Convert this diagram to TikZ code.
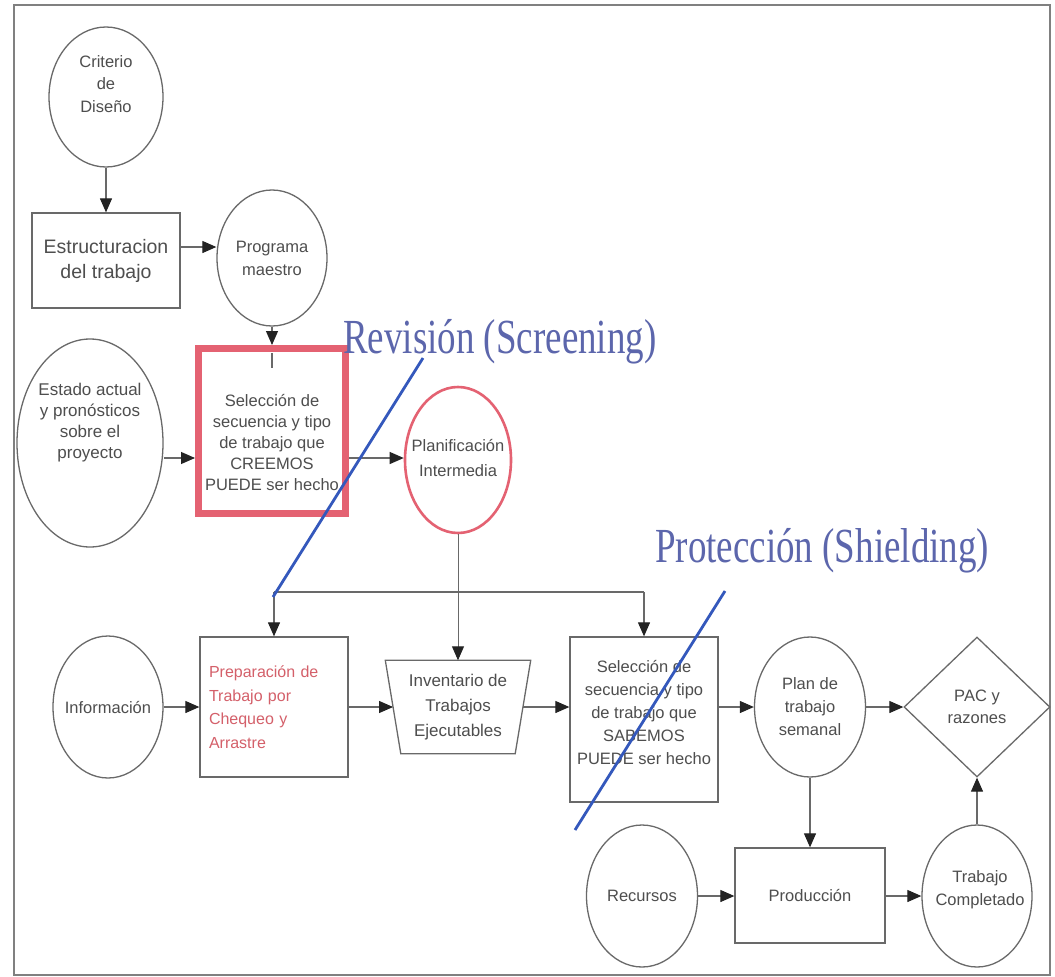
\documentclass[tikz,border=0pt]{standalone}
\usepackage{fontspec}
\setmainfont{Liberation Sans}
\newfontfamily\headfont{Liberation Serif}
\usetikzlibrary{arrows.meta,shapes.geometric,calc}

\definecolor{ink}{RGB}{78,78,78}
\definecolor{edge}{RGB}{105,105,105}
\definecolor{tip}{RGB}{35,35,35}
\definecolor{hot}{RGB}{228,98,114}
\definecolor{hottext}{RGB}{212,96,106}
\definecolor{cut}{RGB}{52,88,188}
\definecolor{headblue}{RGB}{92,102,172}
\definecolor{framegray}{RGB}{128,128,128}

\begin{document}
\begin{tikzpicture}[x=1pt,y=-1pt,
  every node/.style={text=ink, font=\fontsize{16.5}{23}\selectfont, align=center, inner sep=0pt},
  bubble/.style={draw=edge, line width=1.3pt, ellipse},
  box/.style={draw=edge, line width=1.3pt, rectangle},
  conn/.style={draw=edge, line width=1.1pt},
  arr/.style={conn, -{Triangle[length=14pt,width=12pt,color=tip]}},
  hotbox/.style={draw=hot, line width=7pt, rectangle},
  hotbubble/.style={draw=hot, line width=2.6pt, ellipse},
  cutline/.style={draw=cut, line width=2.8pt},
  headline/.style={text=headblue, font=\headfont\fontsize{49}{49}\selectfont, anchor=base west, xscale=0.755},
]
% page and outer frame
\fill[white] (0,0) rectangle (1055,977);
\useasboundingbox (0,0) rectangle (1055,977);
\draw[framegray, line width=2pt] (14,5) rectangle (1050,975);

% rows used by horizontal connectors
\coordinate (rowA) at (0,247);
\coordinate (rowB) at (0,458);

% upper part: design criteria to intermediate planning
\node[bubble, minimum width=114, minimum height=140,
      label={[yshift=13pt, font=\fontsize{16.5}{22.5}\selectfont]center:Criterio\\de\\Diseño}] (crit) at (106,97) {};
\node[box, minimum width=148, minimum height=95, font=\fontsize{19.5}{25}\selectfont] (estr) at (106,260.5) {Estructuracion\\del trabajo};
\node[bubble, minimum width=110, minimum height=136,
      label={center:Programa\\maestro}] (prog) at (272,258) {};
\node[bubble, minimum width=146, minimum height=208,
      label={[yshift=20pt, font=\fontsize{17}{21}\selectfont]center:Estado actual\\y pronósticos\\sobre el\\proyecto}] (estado) at (90,443) {};
\node[hotbox, minimum width=147, minimum height=165,
      label={[yshift=-12pt, font=\fontsize{16.5}{21}\selectfont]center:Selección de\\secuencia y tipo\\de trabajo que\\CREEMOS\\PUEDE ser hecho}] (cree) at (272,431) {};
\node[hotbubble, minimum width=106, minimum height=146,
      label={[yshift=2pt, font=\fontsize{16.5}{25}\selectfont]center:Planificación\\Intermedia}] (plan) at (458,460) {};

% lower part: make-ready to weekly plan
\node[bubble, minimum width=110, minimum height=142, label={center:Información}] (info) at (108,707) {};
\node[box, minimum height=140, text width=130, inner xsep=9pt, align=left, text=hottext,
      font=\fontsize{16}{23.5}\selectfont] (prep) at (274,707) {Preparación de\\Trabajo por\\Chequeo y\\Arrastre};
\node[minimum width=145, minimum height=93, font=\fontsize{17}{25}\selectfont] (inv) at (458,707) {Inventario de\\Trabajos\\Ejecutables};
\draw[edge, line width=1.3pt] (inv.north west) -- (inv.north east) -- ([xshift=-15.5pt]inv.south east)
      -- ([xshift=15.5pt]inv.south west) -- cycle;
\node[box, minimum width=148, minimum height=165,
      label={[yshift=7pt]center:Selección de\\secuencia y tipo\\de trabajo que\\SABEMOS\\PUEDE ser hecho}] (sabe) at (644,719.5) {};
\node[bubble, minimum width=111, minimum height=140,
      label={center:Plan de\\trabajo\\semanal}] (semana) at (810,707) {};
\node[diamond, draw=edge, line width=1.3pt, minimum width=146, minimum height=140,
      label={[font=\fontsize{16.5}{22}\selectfont]center:PAC y\\razones}] (pac) at (977,707) {};
\node[bubble, minimum width=111, minimum height=142, label={center:Recursos}] (rec) at (642,896) {};
\node[box, minimum width=150, minimum height=95] (prod) at (810,895.5) {Producción};
\node[bubble, minimum width=110, minimum height=142,
      label={[xshift=3pt, yshift=6pt]center:Trabajo\\Completado}] (trab) at (977,896) {};

% connectors
\draw[arr] (crit) -- (estr);
\draw[arr] (estr.east |- rowA) -- (prog.west |- rowA);
\draw[arr] (prog) -- (cree);
\draw[conn] ([yshift=-8pt]cree.north) -- ([yshift=-23pt]cree.north);
\draw[arr] (estado.east |- rowB) -- (cree.west |- rowB);
\draw[arr] (cree.east |- rowB) -- (plan.west |- rowB);

\coordinate (busL) at (274,592);
\coordinate (busR) at (644,592);
\draw[conn] (busL) -- (busR);
\draw[arr] (busL) -- (prep);
\draw[arr] (busR) -- (sabe);
\draw[arr, line width=0.9pt] (plan) -- (inv);

\draw[arr] (info) -- (prep);
\draw[arr] (prep) -- ([xshift=7.75pt]inv.west);
\draw[arr] ([xshift=-7.75pt]inv.east) -- (sabe.west |- inv);
\draw[arr] (sabe.east |- semana) -- (semana);
\draw[arr] (semana) -- (pac);
\draw[arr] (semana) -- (prod);
\draw[arr] (rec) -- (prod.west |- rec);
\draw[arr] (prod.east |- trab) -- (trab);
\draw[arr] (trab) -- (pac);

% screening and shielding cuts
\node[headline] (scr) at (343,353) {Revisión (Screening)};
\node[headline] (shd) at (655,562) {Protección (Shielding)};
\coordinate (cutAtop) at (423,358);
\coordinate (cutAbot) at (273,597);
\coordinate (cutBtop) at (725,591);
\coordinate (cutBbot) at (575,830);
\draw[cutline] (cutAtop) -- (cutAbot);
\draw[cutline] (cutBtop) -- (cutBbot);
\end{tikzpicture}
\end{document}
